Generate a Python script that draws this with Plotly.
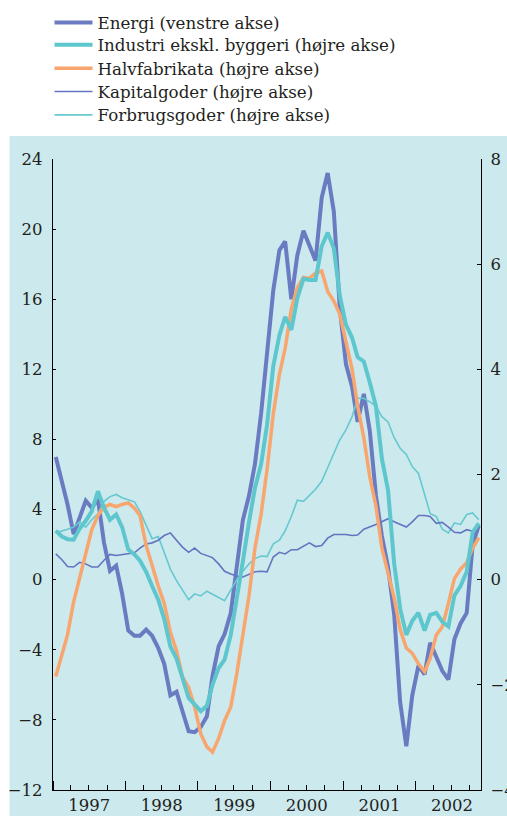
import pandas as pd
import plotly.graph_objects as go

# Monthly observations, Jan 1997 - Nov 2002 (plotted mid-month)
months = (pd.date_range("1997-01-01", periods=71, freq="MS") + pd.Timedelta(days=14)).strftime("%Y-%m-%d").tolist()

energi = [7.0, 5.6, 4.3, 2.6, 3.5, 4.5, 4.1, 4.6, 2.1, 0.5, 0.8, -0.8,
          -2.9, -3.2, -3.2, -2.85, -3.2, -3.9, -4.8, -6.6, -6.4, -7.6, -8.65, -8.7,
          -8.4, -7.8, -5.5, -3.8, -3.1, -1.9, 0.8, 3.4, 4.8, 6.6, 9.5, 13.0,
          16.5, 18.8, 19.3, 16.0, 18.5, 19.9, 19.0, 18.2, 21.8, 23.2, 21.0, 15.5,
          12.3, 11.0, 9.0, 10.6, 8.5, 4.8, 2.5, 0.7, -2.0, -7.0, -9.5, -6.6,
          -4.9, -5.4, -3.6, -4.4, -5.2, -5.7, -3.4, -2.5, -1.9, 2.0, 3.1]

industri = [0.93, 0.82, 0.77, 0.76, 0.97, 1.12, 1.30, 1.68, 1.37, 1.14, 1.24, 1.0,
            0.57, 0.48, 0.36, 0.15, -0.12, -0.38, -0.75, -1.27, -1.5, -1.85, -2.25, -2.37,
            -2.5, -2.4, -2.0, -1.68, -1.52, -1.05, -0.3, 0.35, 1.1, 1.75, 2.2, 2.95,
            4.06, 4.65, 5.0, 4.75, 5.35, 5.72, 5.70, 5.70, 6.34, 6.6, 6.3, 5.4,
            4.85, 4.6, 4.23, 4.15, 3.75, 3.3, 2.3, 1.7, 0.3, -0.55, -1.05, -0.78,
            -0.63, -0.97, -0.67, -0.63, -0.8, -0.89, -0.3, -0.12, 0.15, 0.9, 1.07]

halvfabrikata = [-1.84, -1.42, -1.05, -0.42, 0.05, 0.5, 0.95, 1.22, 1.38, 1.43, 1.39, 1.43,
                 1.46, 1.36, 1.22, 0.65, 0.25, -0.12, -0.45, -1.0, -1.35, -1.85, -2.05, -2.42,
                 -2.93, -3.18, -3.28, -3.02, -2.68, -2.42, -1.8, -1.0, -0.3, 0.6, 1.25, 2.1,
                 3.15, 3.9, 4.4, 5.15, 5.55, 5.75, 5.73, 5.83, 5.87, 5.48, 5.3, 5.05,
                 4.5, 4.0, 3.3, 2.7, 1.96, 1.4, 0.6, 0.1, -0.35, -0.95, -1.3, -1.4,
                 -1.6, -1.75, -1.5, -1.05, -0.9, -0.45, 0.02, 0.2, 0.32, 0.6, 0.8]

kapitalgoder = [0.49, 0.38, 0.25, 0.24, 0.33, 0.30, 0.24, 0.24, 0.37, 0.48, 0.46, 0.48,
                0.49, 0.51, 0.6, 0.68, 0.7, 0.75, 0.84, 0.89, 0.75, 0.62, 0.52, 0.6,
                0.5, 0.45, 0.42, 0.3, 0.16, 0.11, 0.07, 0.05, 0.1, 0.15, 0.16, 0.15,
                0.43, 0.52, 0.49, 0.57, 0.57, 0.63, 0.7, 0.63, 0.65, 0.79, 0.86, 0.86,
                0.86, 0.84, 0.85, 0.96, 1.0, 1.05, 1.1, 1.16, 1.1, 1.05, 1.0, 1.1,
                1.22, 1.22, 1.2, 1.07, 1.09, 1.0, 0.9, 0.89, 0.95, 0.92, 0.92]

forbrugsgoder = [0.89, 0.92, 0.96, 1.0, 1.1, 1.0, 1.14, 1.25, 1.49, 1.58, 1.62, 1.56,
                 1.52, 1.48, 1.30, 1.05, 0.78, 0.82, 0.5, 0.2, -0.02, -0.2, -0.38, -0.27,
                 -0.31, -0.22, -0.28, -0.35, -0.40, -0.2, 0.0, 0.16, 0.3, 0.4, 0.45, 0.44,
                 0.68, 0.75, 0.93, 1.2, 1.51, 1.49, 1.6, 1.72, 1.87, 2.12, 2.4, 2.66,
                 2.85, 3.1, 3.45, 3.45, 3.38, 3.3, 3.1, 3.0, 2.7, 2.5, 2.38, 2.15,
                 2.02, 1.6, 1.26, 1.2, 0.96, 0.89, 1.08, 1.05, 1.24, 1.27, 1.14]

names = ["Energi (venstre akse)", "Industri ekskl. byggeri (højre akse)",
         "Halvfabrikata (højre akse)", "Kapitalgoder (højre akse)",
         "Forbrugsgoder (højre akse)"]

BG = "#cce9ed"
FONT = "DejaVu Serif"
TXT = "#231f20"
TICK_SIZE = 16.5
LEG_SIZE = 16.7

PL, PR, PT, PB = 52.5, 481.0, 159.0, 790.0
W, H = 507, 816
pw, ph = PR - PL, PB - PT

def px_x(x):
    return (x - PL) / pw

def px_y(y):
    return (PB - y) / ph

legend_rows = [22.7, 45.0, 68.3, 91.7, 115.0]
legend_x = px_x(49.0)

fig = go.Figure()
styles = [
    ("#6a7bc2", 4.0, "y", energi),
    ("#5ec6cd", 4.0, "y2", industri),
    ("#f9a56e", 3.5, "y2", halvfabrikata),
    ("#6474c0", 1.6, "y2", kapitalgoder),
    ("#66c9d0", 1.6, "y2", forbrugsgoder),
]
draw_order = [4, 3, 2, 1, 0]
for k in draw_order:
    col, wd, ax, vals = styles[k]
    lg = "legend" if k == 0 else f"legend{k+1}"
    fig.add_trace(go.Scatter(x=months, y=vals, name=names[k], mode="lines",
                             line=dict(color=col, width=wd), yaxis=ax, legend=lg,
                             hoverinfo="skip"))

legend_layout = {}
for k in range(5):
    key = "legend" if k == 0 else f"legend{k+1}"
    legend_layout[key] = dict(
        x=legend_x, xanchor="left", y=px_y(legend_rows[k]), yanchor="middle",
        bgcolor="rgba(0,0,0,0)", borderwidth=0, itemwidth=38,
        font=dict(family=FONT, size=LEG_SIZE, color=TXT),
    )

fig.update_layout(
    template="none",
    width=W, height=H,
    margin=dict(l=PL, r=W - PR, t=PT, b=H - PB, pad=0, autoexpand=False),
    paper_bgcolor="white",
    plot_bgcolor="rgba(0,0,0,0)",
    font=dict(family=FONT, size=TICK_SIZE, color=TXT),
    showlegend=True,
    hovermode=False,
    xaxis=dict(
        type="date", automargin=False,
        range=["1997-01-01", "2002-11-26"],
        tickformat="%Y", dtick="M12", tick0="1997-01-01",
        ticklabelmode="period",
        ticks="inside", ticklen=9, tickcolor="black", tickwidth=1,
        minor=dict(dtick="M3", tick0="1997-01-01", ticks="inside", ticklen=5,
                   tickcolor="black", showgrid=False),
        showline=True, linecolor="black", linewidth=1.2, mirror=False,
        showgrid=False, zeroline=False,
        tickfont=dict(family=FONT, size=TICK_SIZE, color=TXT),
    ),
    yaxis=dict(
        automargin=False,
        range=[-12, 24], dtick=4, tick0=0,
        ticks="inside", ticklen=3, tickcolor="black",
        ticklabelstandoff=6,
        showline=True, linecolor="black", linewidth=1.2,
        showgrid=False, zeroline=False,
        tickfont=dict(family=FONT, size=TICK_SIZE, color=TXT),
    ),
    yaxis2=dict(
        automargin=False,
        range=[-4, 8], dtick=2, tick0=0,
        overlaying="y", side="right",
        ticks="inside", ticklen=4, tickcolor="black",
        ticklabelstandoff=5,
        showline=True, linecolor="black", linewidth=1.2,
        showgrid=False, zeroline=False,
        tickfont=dict(family=FONT, size=TICK_SIZE, color=TXT),
    ),
    shapes=[dict(type="rect", xref="paper", yref="paper",
                 x0=px_x(9), x1=px_x(520), y0=px_y(830), y1=px_y(136),
                 fillcolor=BG, line=dict(width=0), layer="below")],
    **legend_layout,
)

fig.write_html("out.html", config={"displayModeBar": False, "staticPlot": True},
               post_script="document.body.style.margin='0px';")
